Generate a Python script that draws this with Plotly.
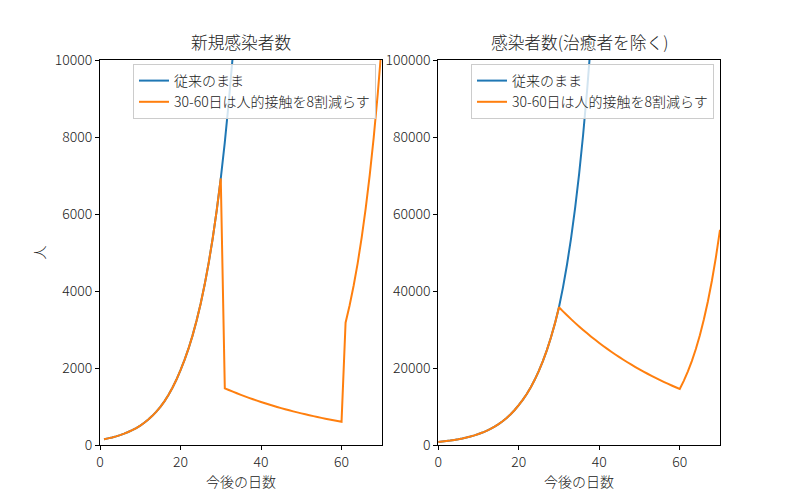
import plotly.graph_objects as go

# ---------------- data ----------------
# Left panel: new infections per day
days_new = list(range(1, 71))
new_base_days = list(range(1, 36))
new_base = [150, 172, 196, 225, 257, 294, 337, 385, 441, 505,
            578, 661, 757, 866, 991, 1134, 1298, 1486, 1700, 1946,
            2209, 2508, 2848, 3233, 3670, 4167, 4731, 5371, 6098, 6923,
            7860, 8923, 10131, 11502, 13058]
new_cut = [150, 172, 196, 225, 257, 294, 337, 385, 441, 505,
           578, 661, 757, 866, 991, 1134, 1298, 1486, 1700, 1946,
           2209, 2508, 2848, 3233, 3670, 4167, 4731, 5371, 6098, 6923,
           1472, 1428, 1385, 1343, 1302, 1263, 1225, 1188, 1152, 1117,
           1083, 1051, 1019, 988, 958, 929, 901, 874, 848, 822,
           797, 773, 750, 727, 705, 684, 663, 643, 624, 605,
           3177, 3625, 4136, 4719, 5385, 6144, 7010, 7999, 9127, 10414]

# Right panel: currently infected (excluding recovered)
days_inf = list(range(0, 71))
inf_base_days = list(range(0, 41))
inf_base = [780, 888, 1010, 1149, 1308, 1489, 1694, 1928, 2194, 2497,
            2841, 3233, 3680, 4187, 4765, 5423, 6171, 7023, 7992, 9095,
            10350, 11716, 13263, 15013, 16995, 19238, 21778, 24652, 27906, 31590,
            35760, 40945, 46880, 53680, 61460, 70370, 80580, 92260, 105640, 120960,
            138500]
inf_cut = [780, 888, 1010, 1149, 1308, 1489, 1694, 1928, 2194, 2497,
           2841, 3233, 3680, 4187, 4765, 5423, 6171, 7023, 7992, 9095,
           10350, 11716, 13263, 15013, 16995, 19238, 21778, 24652, 27906, 31590,
           35760, 34706, 33682, 32689, 31724, 30789, 29880, 28999, 28143, 27313,
           26507, 25725, 24966, 24230, 23515, 22821, 22148, 21495, 20861, 20245,
           19648, 19068, 18506, 17960, 17430, 16916, 16417, 15932, 15462, 15006,
           14563, 16660, 19060, 21800, 24940, 28530, 32640, 37340, 42720, 48870,
           55900]

series_names = ["従来のまま", "30-60日は人的接触を8割減らす"]
titles = ["新規感染者数", "感染者数(治癒者を除く)"]
x_label = "今後の日数"
y_label = "人"
x_ticks = [0, 20, 40, 60]
y_ticks_left = [0, 2000, 4000, 6000, 8000, 10000]
y_ticks_right = [0, 20000, 40000, 60000, 80000, 100000]

BLUE = "#1f77b4"
ORANGE = "#ff7f0e"
FONT = "Noto Sans CJK JP"
TXT = "#222222"

fig = go.Figure()
fig.add_trace(go.Scatter(x=new_base_days, y=new_base, mode="lines", name=series_names[0],
                         line=dict(color=BLUE, width=2, simplify=False),
                         xaxis="x", yaxis="y", legend="legend"))
fig.add_trace(go.Scatter(x=days_new, y=new_cut, mode="lines", name=series_names[1],
                         line=dict(color=ORANGE, width=2, simplify=False),
                         xaxis="x", yaxis="y", legend="legend"))
fig.add_trace(go.Scatter(x=inf_base_days, y=inf_base, mode="lines", name=series_names[0],
                         line=dict(color=BLUE, width=2, simplify=False),
                         xaxis="x2", yaxis="y2", legend="legend2"))
fig.add_trace(go.Scatter(x=days_inf, y=inf_cut, mode="lines", name=series_names[1],
                         line=dict(color=ORANGE, width=2, simplify=False),
                         xaxis="x2", yaxis="y2", legend="legend2"))

tick_font = dict(family=FONT, size=14, color=TXT, weight=300)
axis_common = dict(showline=True, linecolor="black", linewidth=1, mirror=True,
                   ticks="outside", ticklen=4, tickwidth=1, tickcolor="black",
                   showgrid=False, zeroline=False, tickformat="d",
                   tickfont=tick_font)

L_end = 281.8 / 620
R_start = 1 - 281.8 / 620

fig.update_layout(
    width=800, height=500,
    margin=dict(l=100, r=80, t=60, b=55),
    paper_bgcolor="white", plot_bgcolor="white",
    font=dict(family=FONT, color=TXT),
    xaxis=dict(domain=[0, L_end], range=[0, 70], tickvals=x_ticks, anchor="y",
               title=dict(text=x_label, font=tick_font, standoff=3),
               **axis_common),
    yaxis=dict(domain=[0, 1], range=[0, 10000], tickvals=y_ticks_left, anchor="x",
               title=dict(text=y_label, font=tick_font, standoff=5),
               **axis_common),
    xaxis2=dict(domain=[R_start, 1], range=[0, 70], tickvals=x_ticks, anchor="y2",
                title=dict(text=x_label, font=tick_font, standoff=3),
                **axis_common),
    yaxis2=dict(domain=[0, 1], range=[0, 100000], tickvals=y_ticks_right, anchor="x2",
                **axis_common),
    legend=dict(x=(376 - 100) / 620, y=1 - 4 / 385, xanchor="right", yanchor="top",
                bgcolor="rgba(255,255,255,0.8)", bordercolor="#cccccc", borderwidth=1,
                font=tick_font, tracegroupgap=0),
    legend2=dict(x=(714 - 100) / 620, y=1 - 4 / 385, xanchor="right", yanchor="top",
                 bgcolor="rgba(255,255,255,0.8)", bordercolor="#cccccc", borderwidth=1,
                 font=tick_font, tracegroupgap=0),
    showlegend=True,
)

for i, t in enumerate(titles):
    fig.add_annotation(text=t, xref="x domain" if i == 0 else "x2 domain",
                       yref="y domain" if i == 0 else "y2 domain",
                       x=0.5, y=1, xanchor="center", yanchor="bottom", yshift=4,
                       showarrow=False,
                       font=dict(family=FONT, size=16.7, color=TXT, weight=300))

fig.write_html("out.html")
